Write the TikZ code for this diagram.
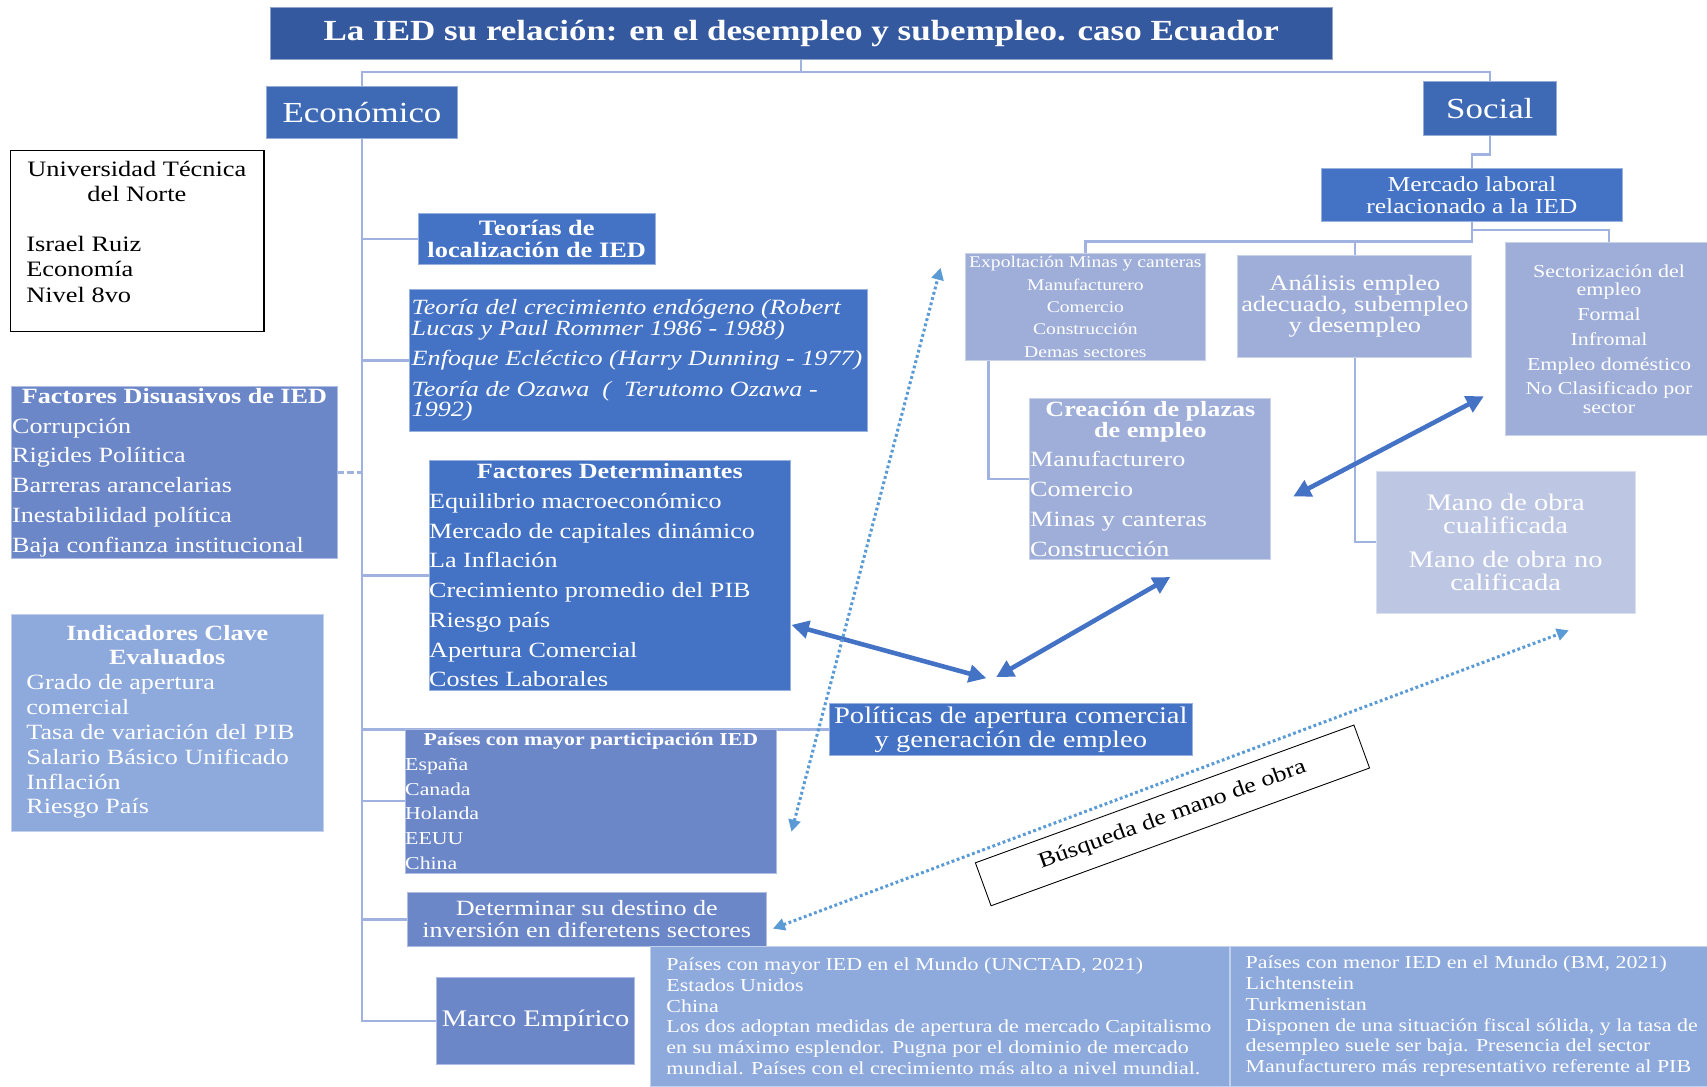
\documentclass[tikz,border=0pt]{standalone}
\usepackage{fontspec}
\setmainfont{Liberation Serif}[FakeStretch=1.2]
\usetikzlibrary{arrows.meta,calc}
\pgfdeclarelayer{bg}
\pgfsetlayers{bg,main}
\definecolor{ctitle}{HTML}{35599F}
\definecolor{cmain}{HTML}{3E6AB5}
\definecolor{cblue}{HTML}{4472C4}
\definecolor{cmid}{HTML}{6C87C8}
\definecolor{clight}{HTML}{8EA9DB}
\definecolor{cpale}{HTML}{9EAED8}
\definecolor{cpaler}{HTML}{BDC7E4}
\definecolor{cline}{HTML}{9FB2E0}
\definecolor{cdot}{HTML}{5B9BD5}
\newcommand\fs[2]{\fontsize{#1}{#2}\selectfont}

\begin{document}
\begin{tikzpicture}[x=1pt,y=-1pt,
  box/.style={fill=#1, draw=#1!55!white, line width=0.7pt, inner sep=0pt,
    outer sep=0pt, text=white, align=center, anchor=north west},
  txt/.style={text=white, inner sep=0pt, align=left, anchor=west},
  conn/.style={draw=cline, line width=2.2pt},
  bigarrow/.style={draw=cblue, line width=4.2pt,
    {Triangle[length=16pt,width=16pt]}-{Triangle[length=16pt,width=16pt]}},
  dotarrow/.style={draw=cdot, line width=2.8pt, dash pattern=on 2.6pt off 2.4pt,
    {Triangle[length=11pt,width=11pt]}-{Triangle[length=11pt,width=11pt]}}
]
\useasboundingbox (0,0) rectangle (1568,998);

% ---------- top level ----------
\node[box=ctitle, minimum width=976pt, minimum height=48pt, font=\bfseries\fs{26.8}{30}]
  (title) at (248,7) {La IED su relación: en el desempleo y subempleo. caso Ecuador};
\node[box=cmain, minimum width=175pt, minimum height=48pt, font=\fs{26.7}{30}]
  (econ) at (245,79) {Económico};
\node[box=cmain, minimum width=123pt, minimum height=49pt, font=\fs{26.7}{30}]
  (social) at (1307,75) {Social};

% ---------- author card ----------
\node[draw=black, fill=white, line width=1pt, inner sep=0pt, anchor=north west,
  minimum width=233pt, minimum height=166pt] (univ) at (9,138) {};
\node[txt, text=black, font=\fs{20.2}{23}] (univ-t) at ([xshift=15pt,yshift=8.5pt]univ.west)
  {\makebox[203pt]{Universidad Técnica}\\\makebox[203pt]{del Norte}\\[23pt]Israel Ruiz\\Economía\\Nivel 8vo};

% ---------- economic branch ----------
\node[box=cblue, minimum width=218pt, minimum height=47pt, font=\bfseries\fs{20.2}{20}]
  (teorias) at (384,196) {Teorías de\\localización de IED};

\node[box=cblue, minimum width=421pt, minimum height=130pt] (theories) at (376,266) {};
\node[txt, font=\itshape\fs{20}{19}] (theories-t) at ([xshift=2pt]theories.west)
  {Teoría del crecimiento endógeno (Robert\\Lucas y Paul Rommer 1986 - 1988)\\[9pt]%
   Enfoque Ecléctico (Harry Dunning - 1977)\\[9pt]%
   Teoría de Ozawa \ (\ \ Terutomo Ozawa -\\1992)};

\node[box=cmid, minimum width=300pt, minimum height=158pt] (disuas) at (10,355) {};
\node[txt, font=\fs{20}{27.3}] (disuas-t) at ([xshift=1pt]disuas.west)
  {\makebox[298pt]{\bfseries Factores Disuasivos de IED}\\Corrupción\\Rigides Políitica\\%
   Barreras arancelarias\\Inestabilidad política\\Baja confianza institucional};

\node[box=cblue, minimum width=332pt, minimum height=211pt] (determ) at (394,423) {};
\node[txt, font=\fs{20}{27.3}] (determ-t) at (determ.west)
  {\makebox[332pt]{\bfseries Factores Determinantes}\\Equilibrio macroeconómico\\%
   Mercado de capitales dinámico\\La Inflación\\Crecimiento promedio del PIB\\%
   Riesgo país\\Apertura Comercial\\Costes Laborales};

\node[box=clight, minimum width=287pt, minimum height=200pt] (indic) at (10,564) {};
\node[txt, font=\fs{20}{22.8}] (indic-t) at ([xshift=14pt,yshift=1pt]indic.west)
  {\makebox[259pt]{\bfseries Indicadores Clave}\\\makebox[259pt]{\bfseries Evaluados}\\%
   Grado de apertura\\comercial\\Tasa de variación del PIB\\Salario Básico Unificado\\%
   Inflación\\Riesgo País};

\node[box=cmid, minimum width=341pt, minimum height=132pt] (paises) at (372,670) {};
\node[txt, font=\fs{16.7}{22.8}] (paises-t) at (paises.west)
  {\makebox[341pt]{\bfseries Países con mayor participación IED}\\España\\Canada\\Holanda\\EEUU\\China};

\node[box=cmid, minimum width=330pt, minimum height=49pt, font=\fs{20}{20}]
  (destino) at (374,820) {Determinar su destino de\\inversión en diferetens sectores};
\node[box=cmid, minimum width=182pt, minimum height=80pt, font=\fs{21.8}{24}]
  (marco) at (401,898) {Marco Empírico};

\node[box=clight, minimum width=532pt, minimum height=129pt] (mayor) at (597,869) {};
\node[txt, font=\fs{16.8}{19}] (mayor-t) at ([xshift=15pt]mayor.west)
  {Países con mayor IED en el Mundo (UNCTAD, 2021)\\Estados Unidos\\China\\%
   Los dos adoptan medidas de apertura de mercado Capitalismo\\%
   en su máximo esplendor. Pugna por el dominio de mercado\\%
   mundial. Países con el crecimiento más alto a nivel mundial.};
\node[box=clight, minimum width=438pt, minimum height=129pt] (menor) at (1130,869) {};
\node[txt, font=\fs{16.8}{19}] (menor-t) at ([xshift=14pt]menor.west)
  {Países con menor IED en el Mundo (BM, 2021)\\Lichtenstein\\Turkmenistan\\%
   Disponen de una situación fiscal sólida, y la tasa de\\%
   desempleo suele ser baja. Presencia del sector\\%
   Manufacturero más representativo referente al PIB};

\node[box=cblue, minimum width=333pt, minimum height=48pt, font=\fs{21.9}{22}]
  (politicas) at (762,646) {Políticas de apertura comercial\\y generación de empleo};

% ---------- social branch ----------
\node[box=cblue, minimum width=276pt, minimum height=48pt, font=\fs{19.6}{20}]
  (mercado) at (1214,155) {Mercado laboral\\relacionado a la IED};
\node[box=cpale, minimum width=220pt, minimum height=98pt, font=\fs{15}{20.5}]
  (sectores) at (887,233) {Expoltación Minas y canteras\\Manufacturero\\Comercio\\Construcción\\Demas sectores};
\node[box=cpale, minimum width=215pt, minimum height=93pt, font=\fs{20.2}{19.5}]
  (analisis) at (1137,235) {Análisis empleo\\adecuado, subempleo\\y desempleo};
\node[box=cpale, minimum width=190pt, minimum height=177pt, font=\fs{16.8}{17}]
  (sectoriz) at (1383,223) {Sectorización del\\empleo\\[5.7pt]Formal\\[5.7pt]Infromal\\[5.7pt]%
   Empleo doméstico\\[5.7pt]No Clasificado por\\sector};
\node[box=cpale, minimum width=221pt, minimum height=148pt] (creacion) at (946,366) {};
\node[txt, font=\fs{20}{19}] (creacion-t) at (creacion.west)
  {\makebox[221pt]{\bfseries Creación de plazas}\\\makebox[221pt]{\bfseries de empleo}\\[8pt]%
   Manufacturero\\[8.5pt]Comercio\\[8.5pt]Minas y canteras\\[8.5pt]Construcción};
\node[box=cpaler, minimum width=238pt, minimum height=130pt, font=\fs{21.8}{21}]
  (manoobra) at (1264,433) {Mano de obra\\cualificada\\[10pt]Mano de obra no\\calificada};

\node[draw=black, fill=white, line width=0.8pt, minimum width=370pt, minimum height=42pt,
  rotate=20, font=\fs{20}{22}] (busq) at (1077,749) {Búsqueda de mano de obra};

% ---------- tree connectors ----------
\begin{pgfonlayer}{bg}
\draw[conn] (title.south) -- ++(0,11) coordinate (tj);
\draw[conn] (econ.north) |- (tj) -| (social.north);
\draw[conn] (econ.south) |- (teorias.west);
\draw[conn] (econ.south) |- (theories.west);
\draw[conn] (econ.south) |- (determ.west);
\draw[conn] (econ.south) |- (politicas.west);
\draw[conn] (econ.south) |- (paises.west);
\draw[conn] (econ.south) |- (destino.west);
\draw[conn] (econ.south) |- (marco.west);
\draw[conn, dash pattern=on 6pt off 3pt] (disuas.east) -- (disuas.east -| econ.south);
\draw[conn] (social.south) -- ++(0,18) -| (mercado.north);
\draw[conn] (mercado.south) -- ++(0,8) -| (sectoriz.north);
\draw[conn] (mercado.south) -- ++(0,19) -| (sectores.north);
\draw[conn] (mercado.south) -- ++(0,19) -| (analisis.north);
\draw[conn] ([xshift=21pt]sectores.south west) |- (creacion.west);
\draw[conn] (analisis.south) |- (manoobra.west);
\end{pgfonlayer}

% ---------- relation arrows ----------
\coordinate (a1s) at (727,574);
\coordinate (a1e) at (906,623);
\coordinate (a2s) at (915,622);
\coordinate (a2e) at (1075,530);
\coordinate (a3s) at (1188,456);
\coordinate (a3e) at (1363,364);
\draw[bigarrow] (a1s) -- (a1e);
\draw[bigarrow] (a2s) -- (a2e);
\draw[bigarrow] (a3s) -- (a3e);

\coordinate (d1s) at (727,764);
\coordinate (d1e) at (864,246);
\coordinate (d2s) at (710,853);
\coordinate (d2e) at (1441,579);
\draw[dotarrow] (d1s) -- (d1e);
\draw[dotarrow] (d2s) -- (d2e);
\end{tikzpicture}
\end{document}
